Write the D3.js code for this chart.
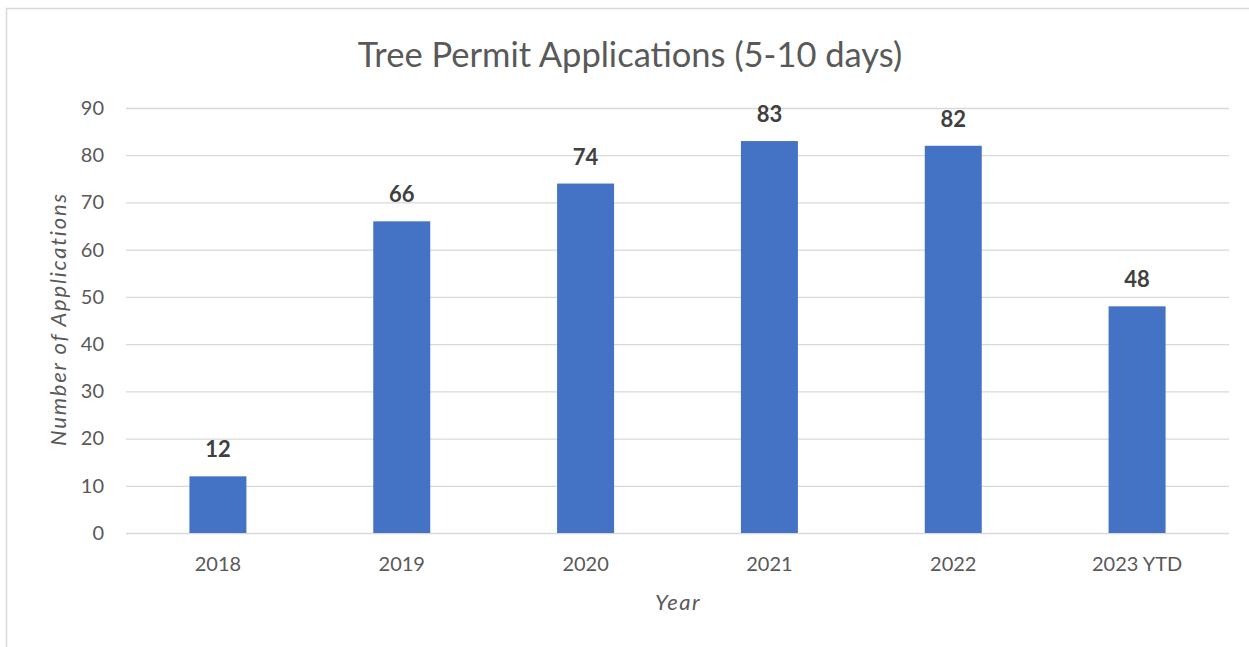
<!DOCTYPE html>
<html>
<head>
<meta charset="utf-8">
<title>Tree Permit Applications (5-10 days)</title>
<style>
  body { margin: 0; background: #fff; }
  svg { display: block; font-family: Lato, "Open Sans", sans-serif; }
</style>
</head>
<body>
<script src="https://cdn.jsdelivr.net/npm/d3@7"></script>
<script>
// chart data
var years = ["2018", "2019", "2020", "2021", "2022", "2023 YTD"];
var counts = [12, 66, 74, 83, 82, 48];
var yTicks = [0, 10, 20, 30, 40, 50, 60, 70, 80, 90];

var W = 1249, H = 647;
var plotLeft = 126, plotRight = 1229, plotTop = 108, plotBottom = 533;

var data = years.map(function(y, i) { return {year: y, count: counts[i]}; });

var svg = d3.select("body").append("svg")
  .attr("width", W)
  .attr("height", H);

// outer chart border
svg.append("rect")
  .attr("x", 6.5).attr("y", 8.5)
  .attr("width", W + 20).attr("height", H + 20)
  .attr("fill", "#fff")
  .attr("stroke", "#d9d9d9")
  .attr("stroke-width", 1.5);

var x = d3.scaleBand()
  .domain(years)
  .range([plotLeft, plotRight])
  .paddingInner(0.69)
  .paddingOuter(0.345);

var y = d3.scaleLinear()
  .domain([0, 90])
  .range([plotBottom, plotTop]);

// gridlines + y tick labels
var yAxis = svg.append("g")
  .attr("transform", "translate(" + plotLeft + ",0)")
  .call(d3.axisLeft(y).tickValues(yTicks).tickSize(-(plotRight - plotLeft)).tickPadding(22));
yAxis.select(".domain").remove();
yAxis.selectAll("line").attr("stroke", "#d9d9d9").attr("stroke-width", 1.3);
yAxis.selectAll("text")
  .attr("fill", "#595959")
  .style("font-size", "20px")
  .style("font-family", "Lato, sans-serif");

// bars
svg.append("g").selectAll("rect")
  .data(data)
  .enter().append("rect")
  .attr("x", function(d) { return x(d.year); })
  .attr("y", function(d) { return y(d.count); })
  .attr("width", x.bandwidth())
  .attr("height", function(d) { return y(0) - y(d.count); })
  .attr("fill", "#4472c4");

// data labels
svg.append("g").selectAll("text")
  .data(data)
  .enter().append("text")
  .attr("x", function(d) { return x(d.year) + x.bandwidth() / 2; })
  .attr("y", function(d) { return y(d.count) - 19; })
  .attr("text-anchor", "middle")
  .attr("fill", "#404040")
  .style("font-size", "22px")
  .style("font-weight", "bold")
  .text(function(d) { return d.count; });

// x axis labels
var xAxis = svg.append("g")
  .attr("transform", "translate(0," + plotBottom + ")")
  .call(d3.axisBottom(x).tickSize(0).tickPadding(24));
xAxis.select(".domain").remove();
xAxis.selectAll("text")
  .attr("fill", "#595959")
  .style("font-size", "20px")
  .style("font-family", "Lato, sans-serif");

// title
svg.append("text")
  .attr("x", 630)
  .attr("y", 67)
  .attr("text-anchor", "middle")
  .attr("fill", "#595959")
  .style("font-size", "34.5px")
  .text("Tree Permit Applications (5-10 days)");

// axis titles
svg.append("text")
  .attr("x", 678)
  .attr("y", 610)
  .attr("text-anchor", "middle")
  .attr("fill", "#595959")
  .style("font-size", "22px")
  .style("font-style", "italic")
  .style("letter-spacing", "1.5px")
  .text("Year");

svg.append("text")
  .attr("transform", "translate(66,319) rotate(-90)")
  .attr("text-anchor", "middle")
  .attr("fill", "#595959")
  .style("font-size", "22px")
  .style("font-style", "italic")
  .style("letter-spacing", "1.8px")
  .text("Number of Applications");
</script>
</body>
</html>
